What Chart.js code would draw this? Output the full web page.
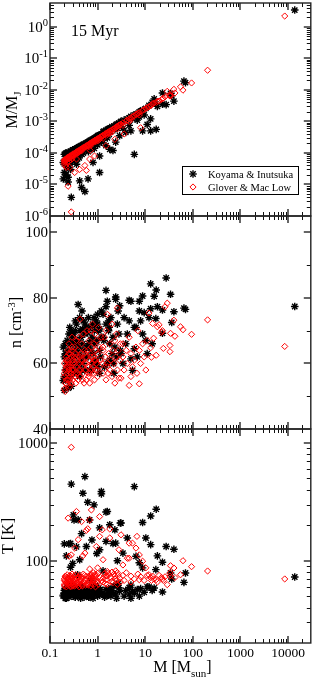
<!DOCTYPE html>
<html>
<head>
<meta charset="utf-8">
<script src="https://cdn.jsdelivr.net/npm/chart.js@4.4.1/dist/chart.umd.min.js"></script>
<style>
  html, body { margin: 0; padding: 0; background: #fff; }
  canvas { display: block; }
</style>
</head>
<body>
<canvas id="c" width="316" height="680"></canvas>
<script>
// ---------------- DATA ----------------
// Koyama & Inutsuka (black asterisks): mass [Msun], M/MJ, n [cm^-3], T [K]
const kiMass = [
  0.19,0.2,0.2,0.21,0.21,0.22,0.22,0.23,0.23,0.24, 0.24,0.25,0.25,0.26,0.26,0.27,0.27,0.28,0.28,0.29, 0.29,0.3,0.3,0.2,0.22,0.25,0.28,0.19,0.24,0.27,
  0.31,0.32,0.33,0.33,0.34,0.35,0.36,0.36,0.37,0.38, 0.39,0.4,0.4,0.41,0.42,0.42,0.44,0.45,0.46,0.46, 0.48,0.49,0.5,0.5,0.52,0.54,0.54,0.56,0.58,0.6,
  0.62,0.63,0.65,0.68,0.7,0.72,0.74,0.76,0.8,0.8, 0.84,0.86,0.88,0.9,0.94,0.96,1.0,1.0,1.05,1.1, 1.1,1.1,1.15,1.2,1.2,0.66,0.78,0.92,
  1.3,1.4,1.5,1.5,1.5,1.6,1.6,1.7,1.8,1.8, 1.9,2.0,2.1,2.2,2.3,2.4,2.4,2.5,2.6,2.8, 2.9,3.0,1.35,1.75,2.15,2.7,
  3.1,3.4,3.6,3.9,4.2,4.6,4.6,5.0,5.0,5.4, 5.9,5.9,6.4,6.8,7.5,7.5,8.0,8.8,8.8,9.5, 10.3,11,
  13,13,17,15.4,16.7,18,23,23,27.5,34, 36,40,65,70,13800,12,14,
  0.21,0.23,0.26,0.3,0.34,0.38,0.43,0.47,0.55,0.64, 0.72,0.85,1.0,1.3,1.7
];
const kiMMJ = [
  1.5e-5,9e-5,2.4e-5,9.5e-5,5.5e-5,1.0e-4,4e-5,8e-5,6e-5,1.05e-4, 1.7e-5,1.0e-4,7e-5,9e-5,5e-5,1.1e-4,3e-5,1.15e-4,3.9e-6,1.05e-4, 7.5e-5,1.25e-4,8.5e-5,4.5e-5,2e-5,4e-5,6e-5,5e-5,1.2e-5,8e-5,
  1.25e-4,9e-5,1.3e-4,6e-5,1.35e-4,1.1e-4,4.4e-5,1.4e-4,1.2e-4,1.45e-4, 9e-5,1.55e-4,1.3e-4,7e-5,1.3e-5,1.6e-4,1.5e-4,1.7e-4,8e-6,1.2e-4, 1.75e-4,1.5e-4,1.85e-4,1.0e-4,1.9e-4,6e-6,1.7e-4,2.0e-4,1.3e-4,2.1e-4,
  2.2e-4,1.5e-5,2.3e-4,1.6e-4,2.5e-4,2.1e-4,2.6e-4,1.3e-4,2.7e-4,5e-5, 2.9e-4,2.4e-4,3.0e-4,2.0e-4,3.2e-4,2.7e-4,3.5e-4,1.8e-4,3.6e-4,2.4e-5, 8e-5,3.7e-4,3.0e-4,3.9e-4,2.2e-4,2.0e-4,2.4e-4,2.9e-4,
  4.6e-4,3.5e-4,5.2e-4,1.7e-4,4.3e-4,5.6e-4,3.0e-4,5.8e-4,1.3e-4,6.0e-4, 4.8e-4,6.8e-4,1.2e-4,7.0e-4,5.5e-4,2.2e-4,7.6e-4,8.2e-4,6.0e-4,8.8e-4, 3.5e-4,9.5e-4,4.9e-4,3.9e-4,6.2e-4,7.4e-4,
  1.0e-3,6e-4,1.1e-3,4.5e-4,1.2e-3,1.3e-3,7.5e-4,5e-4,1.45e-3,1.2e-3, 9e-5,1.6e-3,1.7e-3,1.1e-3,2.0e-3,1.4e-3,2.1e-3,5e-4,2.3e-3,1.6e-3, 2.6e-3,8e-4,
  1.2e-3,5e-4,5.6e-4,5.2e-3,3.6e-3,3.0e-3,3.5e-3,8e-3,3.4e-3,7.7e-3, 6.5e-3,4.4e-3,0.019,0.017,3.4,3.2e-3,4.0e-3,
  6.5e-5,3.5e-5,1.0e-4,5.5e-5,1.2e-4,6.5e-5,1.4e-4,9e-5,1.8e-4,1.1e-4, 2.4e-4,1.4e-4,3.3e-4,2.5e-4,5.3e-4
];
const kiDens = [
  54.8,62,51.8,58,66,57.9,60,55,63,54.8, 64,59,69,56,61,66,58,62,53,60, 67,57,64,56,55.5,59,70,65,52.5,61,
  69,66,62,58,70,64,57,72,60,67, 78,63,59,65,56,74,61,68,58,62, 70.5,66,60,73,64,57.9,69,62,71,65,
  69.5,62,66,58,71,64,57.9,68,60,63, 74,71.5,66,61,73,67,75,59,70,57, 64,70.5,62,68,76,65,72,60,
  75,58.9,82.3,72,77.3,79,60,70,61,66, 74,63,68,57,65,79.6,80.3,62,72,69, 77.6,64,67,71,60,76,
  63,60,74,66,69,79.3,73,61.4,79,57.9, 64.5,71,71,62,79,76,73,80.6,69,75.5, 67,63,
  76.7,84.3,82.4,80.5,73.7,77.3,69.2,76.3,86.1,81.1, 72.5,75.8,76.9,76.5,77.4,74,66,
  63,67,71,68,73,66,70,76,72,74, 67,70,72,68,73
];
const kiTemp = [
  50,139,56,48,58,110,53,60,51,57, 55,49,139,58,52,140,54,447,59,50, 56,61,95,53,48,57,55,51,59,88,
  245,222,52,58,49,60,54,131,56,50, 223,57,53,59,102,55,48,61,54,170, 51,374,58,56,49,518,53,57,132,50,
  314,55,49,222,58,51,60,150,53,48, 298,57,52,62,56,115,50,54,59,190, 124,51,57,387,370,49,55,60,
  53,49,259,146,57,51,262,58,202,54, 50,56,140,61,183,141,52,48,100,59, 55,209,51,57,53,64,
  209,116,50,56,156,59,52,62,48,55, 426,53,109,57,96,50,58,211,87,54, 156,60,
  240,137,274,58.7,84,110,97,54.3,132,78.7, 70,125,65.5,78.7,72.8,60,56,
  57,51,62,55,49,76,58,53,56,50, 68,59,54,82,51
];

// Glover & Mac Low (red diamonds)
const gmMass = [
  0.2,0.2,0.2,0.21,0.21,0.22,0.22,0.22,0.23,0.23, 0.24,0.24,0.24,0.25,0.25,0.26,0.26,0.26,0.27,0.27, 0.28,0.28,0.28,0.29,0.29,0.3,0.3,0.21,0.23,0.25, 0.27,0.29,
  0.31,0.32,0.33,0.33,0.34,0.35,0.35,0.36,0.36,0.37, 0.38,0.39,0.39,0.4,0.41,0.42,0.42,0.43,0.44,0.45, 0.46,0.47,0.48,0.49,0.5,0.52,0.54,0.54,0.56,0.58, 0.58,0.6,
  0.62,0.63,0.65,0.66,0.68,0.68,0.7,0.72,0.74,0.74, 0.76,0.78,0.8,0.82,0.84,0.86,0.86,0.88,0.9,0.92, 0.94,0.96,1.0,1.0,1.05,1.1,1.1,1.15,1.2,0.7,
  1.25,1.3,1.3,1.4,1.45,1.5,1.5,1.6,1.6,1.7, 1.8,1.8,1.9,2.0,2.0,2.1,2.2,2.3,2.3,2.4, 2.5,2.6,2.6,2.7,2.8,2.9,3.0,1.65,
  3.1,3.4,3.4,3.6,4.0,4.2,4.6,4.6,5.0,5.0, 5.4,5.9,6.4,6.7,7.0,7.5,7.5,8.0,8.8,9.5, 10.3,11,
  12,13,13.5,14.3,15,17,18,19.5,22,23, 24,26,29,33,33,34,40,42,55,62, 94,204,8500,
  0.2,0.22,0.24,0.26,0.28,0.3,0.33,0.36,0.4,0.44, 0.48,0.53,0.58,0.64,0.72,0.8,0.9,1.0,1.3,1.6
];
const gmMMJ = [
  6.0e-5,5.2e-5,4.5e-5,6.3e-5,5.5e-5,6.7e-5,6.0e-5,3.5e-5,7.0e-5,6.2e-5, 7.3e-5,8.8e-6,6.5e-5,7.6e-5,6.8e-5,7.9e-5,3.5e-5,7.0e-5,8.1e-5,7.3e-5, 8.4e-5,1.35e-6,7.6e-5,8.7e-5,7.8e-5,9.0e-5,8.0e-5,4.0e-5,5.0e-5,5.5e-5, 6.0e-5,6.5e-5,
  9.3e-5,8.5e-5,9.8e-5,2.4e-5,1.0e-4,1.04e-4,9.0e-5,1.07e-4,6.4e-5,1.1e-4, 1.13e-4,1.16e-4,1.0e-4,1.18e-4,1.1e-4,1.23e-4,3.0e-5,1.25e-4,1.15e-4,1.32e-4, 1.34e-4,1.2e-4,1.4e-4,1.42e-4,1.46e-4,1.5e-4,1.56e-4,4.0e-5,1.62e-4,1.66e-4, 2.8e-5,1.73e-4,
  1.78e-4,1.7e-4,1.85e-4,1.6e-4,1.95e-4,6.4e-5,2.0e-4,2.05e-4,2.1e-4,1.8e-4, 2.17e-4,2.2e-4,2.28e-4,2.3e-4,2.38e-4,2.42e-4,8.0e-5,2.5e-4,2.55e-4,2.3e-4, 2.65e-4,2.7e-4,2.8e-4,2.4e-4,2.95e-4,3.07e-4,2.7e-4,3.2e-4,3.35e-4,1.2e-4,
  3.5e-4,3.6e-4,2.9e-4,3.9e-4,4.0e-4,4.15e-4,1.7e-4,4.4e-4,3.8e-4,4.65e-4, 4.9e-4,4.2e-4,5.1e-4,5.4e-4,4.6e-4,5.6e-4,5.9e-4,6.1e-4,2.7e-4,6.4e-4, 6.7e-4,6.9e-4,5.8e-4,7.2e-4,7.5e-4,7.7e-4,8.0e-4,4.5e-4,
  8.2e-4,9.0e-4,7.5e-4,4.0e-4,1.05e-3,1.1e-3,1.2e-3,1.0e-3,1.3e-3,1.15e-3, 1.4e-3,1.5e-3,1.65e-3,1.7e-3,1.8e-3,1.9e-3,1.6e-3,6.3e-4,2.2e-3,2.4e-3, 2.55e-3,2.75e-3,
  2.9e-3,3.2e-3,3.3e-3,3.6e-3,3.8e-3,4.0e-3,4.3e-3,4.4e-3,5.0e-3,5.2e-3, 5.5e-3,6.0e-3,9.0e-3,6.4e-3,7.0e-3,6.4e-3,0.0104,8.0e-3,0.0125,9.8e-3, 0.0166,0.042,2.2,
  5.6e-5,6.3e-5,7.0e-5,7.4e-5,8.0e-5,8.6e-5,9.5e-5,1.02e-4,1.12e-4,1.25e-4, 1.36e-4,1.5e-4,1.6e-4,1.8e-4,1.95e-4,2.2e-4,2.45e-4,2.7e-4,3.5e-4,4.2e-4
];
const gmDens = [
  52.2,56,60,54,58,62,55,59,53.5,57, 61,64,55,58,66,53,60,63,56,59, 62,54,57,65,58,61,55,51.5,60,63, 57,68,
  58,62,56,65,60,54,63,67,59,61, 57,64,55,68,60,62,56,73.5,58,63, 66,59,61,57,69,54,60,64,58,62, 55,70,
  59,64,56,67,61,54,63,70,58,65, 60,72,57,62,66,55,61,69,58,64, 60,67,56,63,71,59,65,61,68,57,
  60,65,57,68,62,55,70,75,59,63, 66,58,61,72,56,64,60,67,54,62, 69,76.9,58,64,55.5,61,66,57,
  55.5,62,66,58,64,60,53.3,68,56,63, 59,61,65,57,70,53.8,64,60,66,62, 58,67,
  75.4,64.8,61.9,72.2,67.7,62.5,71.2,71.8,69.5,70, 64.6,77.3,78.4,65.5,63.6,69.2,73.2,68.3,71.2,70.3, 68.9,73.3,65.2,
  57,61,59,55,64,60,57,62,58,61, 55,63,60,57,62,59,61,58,64,60
];
const gmTemp = [
  63,70,61,67,74,65,72,60,68,76, 230,64,71,62,69,73,66,75,61,68, 112,920,64,70,77,67,62,73,66,109, 60,71,
  66,74,128,61,69,63,76,262,65,71, 62,151,73,67,60,75,64,70,68,63, 215,72,61,110,77,66,69,116,62,181, 74,65,
  187,62,73,66,222,85,70,61,270,76, 64,72,67,79,63,71,68,75,60,74, 132,66,78,87,63,237,161,72,68,76,
  183,102,66,78,64,74,69,81,63,76, 186,156,72,67,80,65,77,70,74,82, 68,79,63,75,124,71,66,78,
  166,92,75,68,79,105,141,105,66,74, 141,70,128,161,77,112,69,73,99,68, 87,75,
  76,72,68,74,70,69,66,75,72,70, 68,73,62.6,78.7,74,90.7,86.7,72,76,100, 89,81.8,70,
  68,63,71,66,74,61,69,65,72,67, 62,75,70,64,73,68,77,66,71,74
];

const seriesNames = ['Koyama & Inutsuka', 'Glover & Mac Low'];
const panelLabel = '15 Myr';
const xTickValues = [0.1, 1, 10, 100, 1000, 10000];
const xTickLabels = ['0.1', '1', '10', '100', '1000', '10000'];
const y1TickExps = [0, -1, -2, -3, -4, -5, -6];
const y2TickValues = [40, 60, 80, 100];
const y2MinorValues = [50, 70, 90];
const y3TickValues = [100, 1000];

// ---------------- CHART ----------------
const FONT = '"Liberation Serif", "Times New Roman", serif';
const PANELS = [[3, 216], [216, 429], [429, 643]];

function pts(xs, ys) { return xs.map((x, i) => ({ x: x, y: ys[i] })); }

const starStyle = { pointStyle: 'star', pointRadius: 3.8, pointHoverRadius: 3.8, borderColor: '#000', backgroundColor: '#000', borderWidth: 1.4, order: 1, showLine: false };
const diaStyle  = { pointStyle: 'rectRot', pointRadius: 3.1, pointHoverRadius: 3.1, borderColor: '#ff0000', backgroundColor: 'rgba(0,0,0,0)', borderWidth: 1, order: 0, showLine: false };

const panelPlugin = {
  id: 'panels',
  afterLayout(chart) {
    ['y1', 'y2', 'y3'].forEach((id, i) => {
      const s = chart.scales[id];
      s.top = PANELS[i][0];
      s.bottom = PANELS[i][1];
      s.height = s.bottom - s.top;
      s.configure();
    });
  }
};

function line(ctx, x1, y1, x2, y2) { ctx.beginPath(); ctx.moveTo(x1, y1); ctx.lineTo(x2, y2); ctx.stroke(); }

function rich(ctx, segs, x, y, align) {
  let w = 0;
  segs.forEach(s => { ctx.font = s[1] + 'px ' + FONT; w += ctx.measureText(s[0]).width; });
  let cx = align === 'right' ? x - w : (align === 'center' ? x - w / 2 : x);
  ctx.textAlign = 'left';
  ctx.textBaseline = 'alphabetic';
  segs.forEach(s => { ctx.font = s[1] + 'px ' + FONT; ctx.fillText(s[0], cx, y + s[2]); cx += ctx.measureText(s[0]).width; });
}

const overlayPlugin = {
  id: 'overlay',
  afterDatasetsDraw(chart) {
    const ctx = chart.ctx;
    const xs = chart.scales.x;
    const L = chart.chartArea.left, R = chart.chartArea.right;
    const ys = [chart.scales.y1, chart.scales.y2, chart.scales.y3];
    ctx.save();
    ctx.fillStyle = '#000';

    const MAJ = 7, MIN = 4;
    function majStyle() { ctx.strokeStyle = '#666'; ctx.lineWidth = 2; }
    function minStyle() { ctx.strokeStyle = '#111'; ctx.lineWidth = 1; }

    const xMinor = [];
    for (let e = -1; e <= 4; e++) for (let k = 2; k <= 9; k++) { const v = k * Math.pow(10, e); if (v < xs.max) xMinor.push(v); }
    ys.forEach(s => {
      minStyle();
      xMinor.forEach(v => { const p = Math.round(xs.getPixelForValue(v)) + 0.5; line(ctx, p, s.bottom, p, s.bottom - MIN); line(ctx, p, s.top, p, s.top + MIN); });
      majStyle();
      xTickValues.forEach(v => { const p = Math.round(xs.getPixelForValue(v)); line(ctx, p, s.bottom, p, s.bottom - MAJ); line(ctx, p, s.top, p, s.top + MAJ); });
    });

    function yTicks(s, majors, minors) {
      minStyle();
      minors.forEach(v => { const p = Math.round(s.getPixelForValue(v)) + 0.5; if (p <= s.top + 1 || p >= s.bottom - 1) return; line(ctx, L, p, L + MIN, p); line(ctx, R, p, R - MIN, p); });
      majStyle();
      majors.forEach(v => { const p = Math.round(s.getPixelForValue(v)); if (p <= s.top + 1 || p >= s.bottom - 1) return; line(ctx, L, p, L + MAJ, p); line(ctx, R, p, R - MAJ, p); });
    }
    const y1Maj = y1TickExps.map(e => Math.pow(10, e));
    const y1Min = [];
    for (let e = -6; e <= 0; e++) for (let k = 2; k <= 9; k++) { const v = k * Math.pow(10, e); if (v < ys[0].max) y1Min.push(v); }
    yTicks(ys[0], y1Maj, y1Min);
    yTicks(ys[1], y2TickValues, y2MinorValues);
    const y3Min = [];
    for (let e = 1; e <= 2; e++) for (let k = 2; k <= 9; k++) { const v = k * Math.pow(10, e); if (v > ys[2].min && v < ys[2].max) y3Min.push(v); }
    yTicks(ys[2], y3TickValues, y3Min);

    ctx.strokeStyle = '#222'; ctx.lineWidth = 1.4;
    ys.forEach(s => ctx.strokeRect(L, s.top, R - L, s.bottom - s.top));

    ctx.fillStyle = '#000';
    y1TickExps.forEach(e => {
      const p = ys[0].getPixelForValue(Math.pow(10, e));
      rich(ctx, [['10', 15, 0], [String(e), 10.5, -6]], 48, p + 5, 'right');
    });
    y2TickValues.forEach(v => {
      const p = ys[1].getPixelForValue(v);
      rich(ctx, [[String(v), 15, 0]], 48, p + 5, 'right');
    });
    y3TickValues.forEach(v => {
      const p = ys[2].getPixelForValue(v);
      rich(ctx, [[String(v), 15, 0]], 48, p + 5, 'right');
    });

    xTickValues.forEach((v, i) => {
      const p = xs.getPixelForValue(v);
      rich(ctx, [[xTickLabels[i], 13.5, 0]], p, 657, 'center');
    });

    rich(ctx, [['M [M', 16, 0], ['sun', 11, 4.5], [']', 16, 0]], 182.5, 672, 'center');
    function vtitle(segs, baseX, cy) {
      ctx.save(); ctx.translate(baseX, cy); ctx.rotate(-Math.PI / 2);
      rich(ctx, segs, 0, 0, 'center');
      ctx.restore();
    }
    vtitle([['M/M', 16, 0], ['J', 11, 4]], 16.5, 110);
    vtitle([['n [cm', 16, 0], ['-3', 10.5, -6.5], [']', 16, 0]], 21, 322.5);
    vtitle([['T [K]', 16, 0]], 12.5, 536);

    rich(ctx, [[panelLabel, 16, 0]], 71, 35.5, 'left');

    ctx.fillStyle = '#fff';
    ctx.fillRect(182.5, 166.5, 116, 28);
    ctx.strokeStyle = '#000'; ctx.lineWidth = 1;
    ctx.strokeRect(182.5, 166.5, 116, 28);
    ctx.strokeStyle = '#000'; ctx.lineWidth = 1.4;
    const sx = 193, sy = 174, r = 3.8, d = r * Math.SQRT1_2;
    line(ctx, sx - r, sy, sx + r, sy); line(ctx, sx, sy - r, sx, sy + r);
    line(ctx, sx - d, sy - d, sx + d, sy + d); line(ctx, sx - d, sy + d, sx + d, sy - d);
    ctx.strokeStyle = '#ff0000'; ctx.lineWidth = 1;
    const dx = 193, dy = 187, rr = 3.1;
    ctx.beginPath(); ctx.moveTo(dx, dy - rr); ctx.lineTo(dx + rr, dy); ctx.lineTo(dx, dy + rr); ctx.lineTo(dx - rr, dy); ctx.closePath(); ctx.stroke();
    ctx.fillStyle = '#000';
    rich(ctx, [[seriesNames[0], 10.5, 0]], 208, 177.5, 'left');
    rich(ctx, [[seriesNames[1], 10.5, 0]], 208, 190.5, 'left');

    ctx.restore();
  }
};

new Chart(document.getElementById('c'), {
  type: 'scatter',
  data: {
    datasets: [
      Object.assign({ label: seriesNames[0], data: pts(kiMass, kiMMJ), yAxisID: 'y1' }, starStyle),
      Object.assign({ label: seriesNames[1], data: pts(gmMass, gmMMJ), yAxisID: 'y1' }, diaStyle),
      Object.assign({ label: seriesNames[0], data: pts(kiMass, kiDens), yAxisID: 'y2' }, starStyle),
      Object.assign({ label: seriesNames[1], data: pts(gmMass, gmDens), yAxisID: 'y2' }, diaStyle),
      Object.assign({ label: seriesNames[0], data: pts(kiMass, kiTemp), yAxisID: 'y3' }, starStyle),
      Object.assign({ label: seriesNames[1], data: pts(gmMass, gmTemp), yAxisID: 'y3' }, diaStyle)
    ]
  },
  options: {
    responsive: false,
    animation: false,
    devicePixelRatio: 1,
    layout: { padding: { left: 50, right: 3, top: 3, bottom: 37 } },
    scales: {
      x:  { type: 'logarithmic', min: 0.1, max: 30000, display: false },
      y1: { type: 'logarithmic', min: 1e-6, max: 5.7, display: false },
      y2: { type: 'linear', min: 40, max: 105, display: false },
      y3: { type: 'logarithmic', min: 20, max: 1315, display: false }
    },
    plugins: { legend: { display: false }, tooltip: { enabled: false } },
    events: []
  },
  plugins: [panelPlugin, overlayPlugin]
});
</script>
</body>
</html>
